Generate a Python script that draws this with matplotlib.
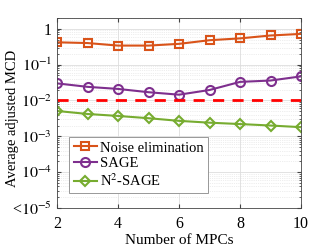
import matplotlib.pyplot as plt
from matplotlib.ticker import FixedLocator, LogLocator, NullFormatter

plt.rcParams['font.family'] = ['Liberation Serif', 'DejaVu Serif']
plt.rcParams['mathtext.fontset'] = 'stix'

n_mpc = [2, 3, 4, 5, 6, 7, 8, 9, 10]
noise_elim = [0.42, 0.40, 0.34, 0.34, 0.38, 0.48, 0.54, 0.65, 0.72]
sage = [0.030, 0.024, 0.021, 0.017, 0.0145, 0.0196, 0.033, 0.036, 0.047]
n2_sage = [0.0051, 0.0042, 0.0037, 0.0032, 0.0027, 0.0024, 0.0022, 0.0020, 0.0018]
threshold = 0.01

y_ticks = [1e-5, 1e-4, 1e-3, 1e-2, 1e-1, 1]
y_labels = ['<$10^{-5}$', '$10^{-4}$', '$10^{-3}$', '$10^{-2}$', '$10^{-1}$', '1']

fig = plt.figure(figsize=(3.32, 2.49), dpi=100)
ax = fig.add_axes([57 / 332, 1 - 208 / 249, 244 / 332, 190 / 249])

ax.plot(n_mpc, noise_elim, '-s', color='#D95319', lw=1.5, ms=5.5, mfc='none', mew=1.5,
        label='Noise elimination')
ax.plot(n_mpc, sage, '-o', color='#7E2F8E', lw=1.5, ms=6.5, mfc='none', mew=1.5,
        label='SAGE')
ax.plot(n_mpc, n2_sage, '-D', color='#77AC30', lw=1.5, ms=5.5, mfc='none', mew=1.5,
        label='N$^2$-SAGE')
ax.axhline(threshold, color='#FF0000', ls=(0, (4, 3)), lw=2)

ax.set_yscale('log')
ax.set_xlim(2, 10)
ax.set_ylim(1e-5, 2)
ax.set_xticks([2, 4, 6, 8, 10])
ax.yaxis.set_major_locator(FixedLocator(y_ticks))
ax.set_yticklabels(y_labels)
ax.yaxis.set_minor_locator(LogLocator(base=10, subs=range(2, 10), numticks=20))
ax.yaxis.set_minor_formatter(NullFormatter())

ax.grid(True, which='major', color='#dddddd', lw=0.6)
ax.grid(True, which='minor', axis='y', color='#dddddd', lw=0.5, ls=':')
ax.tick_params(direction='in', labelsize=11.5, top=True, right=True, which='both', length=3,
               color='#444444')
ax.tick_params(axis='x', pad=6)
ax.tick_params(which='minor', length=1.5)
for s in ax.spines.values():
    s.set_color('#444444')
    s.set_linewidth(0.6)

ax.set_xlabel('Number of MPCs', fontsize=11, labelpad=1)
ax.set_ylabel('Average adjusted MCD', fontsize=10.5)
ax.yaxis.set_label_coords(-0.155, 0.47)

leg = ax.legend(loc='lower left', fontsize=10.5, handlelength=1.6, handletextpad=0.2,
                borderpad=0.3, labelspacing=0.15, fancybox=False, framealpha=1,
                edgecolor='#888888', bbox_to_anchor=(0.02, 0.04))
leg.get_frame().set_linewidth(0.6)

fig.savefig('out.png', dpi=100)
